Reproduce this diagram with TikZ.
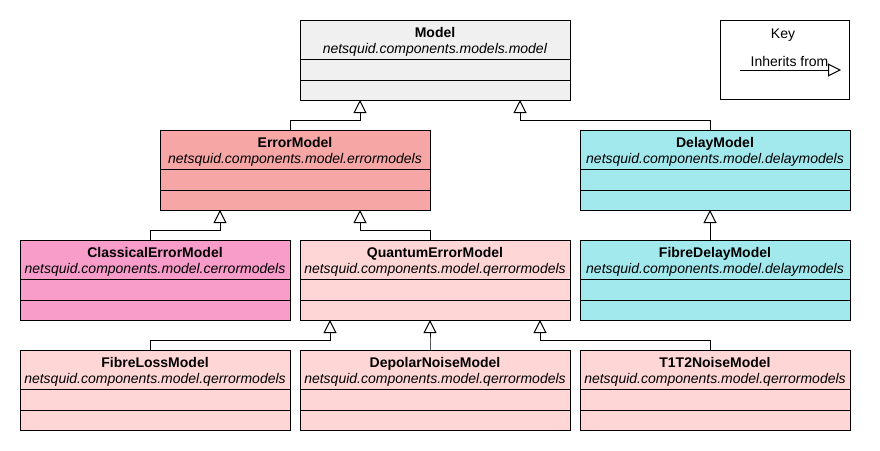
\documentclass[tikz,border=0pt]{standalone}
\usepackage{fontspec}
\setmainfont{Liberation Sans}
\usepackage{xcolor}
\usepackage{tikz}
\usetikzlibrary{positioning,arrows.meta}

\definecolor{modelgrey}{HTML}{F0F0F0}
\definecolor{errorred}{HTML}{F7A6A6}
\definecolor{cerrorpink}{HTML}{F89CCA}
\definecolor{qerrorpink}{HTML}{FFD6D6}
\definecolor{delaycyan}{HTML}{A2E9EE}

\begin{document}
\begin{tikzpicture}[x=1pt, y=-1pt, line width=1pt,
	font=\fontsize{14}{16}\selectfont,
	classhead/.style={draw, minimum width=270pt, minimum height=39pt, inner sep=0pt, outer sep=0pt, align=center, text depth=0pt},
	classpart/.style={draw, minimum width=270pt, inner sep=0pt, outer sep=0pt},
	inherits/.style={-{Triangle[open, length=13pt, width=13pt]}}]
	\useasboundingbox (0,0) rectangle (880,450);
	% class boxes: name / left / top / title / package / colour
	\foreach \nm/\x/\y/\ttl/\pkg/\col in {
			Model/300/20/Model/netsquid.components.models.model/modelgrey,
			ErrorModel/160/130/ErrorModel/netsquid.components.model.errormodels/errorred,
			DelayModel/580/130/DelayModel/netsquid.components.model.delaymodels/delaycyan,
			ClassicalErrorModel/20/240/ClassicalErrorModel/netsquid.components.model.cerrormodels/cerrorpink,
			QuantumErrorModel/300/240/QuantumErrorModel/netsquid.components.model.qerrormodels/qerrorpink,
			FibreDelayModel/580/240/FibreDelayModel/netsquid.components.model.delaymodels/delaycyan,
			FibreLossModel/20/350/FibreLossModel/netsquid.components.model.qerrormodels/qerrorpink,
			DepolarNoiseModel/300/350/DepolarNoiseModel/netsquid.components.model.qerrormodels/qerrorpink,
			T1T2NoiseModel/580/350/T1T2NoiseModel/netsquid.components.model.qerrormodels/qerrorpink}{
		\node[classhead, fill=\col] (\nm) at (\x+135,\y+19.5) {\rule{0pt}{11.6pt}\textbf{\ttl}\\\textit{\pkg}};
		\node[classpart, fill=\col, minimum height=21pt, below=0pt of \nm] (\nm-a) {};
		\node[classpart, fill=\col, minimum height=20pt, below=0pt of \nm-a] (\nm-b) {};
	}
	% inheritance: child / parent / shift on parent
	\foreach \child/\parent/\dx in {
			ErrorModel/Model/-75, DelayModel/Model/85,
			ClassicalErrorModel/ErrorModel/-75, QuantumErrorModel/ErrorModel/65,
			FibreDelayModel/DelayModel/-5,
			FibreLossModel/QuantumErrorModel/-105, DepolarNoiseModel/QuantumErrorModel/-5,
			T1T2NoiseModel/QuantumErrorModel/105}
		\draw[inherits] ([xshift=-5pt]\child.north) -- ++(0,-10) -| ([xshift=\dx pt]\parent-b.south);
	% key
	\node[draw, minimum width=129pt, minimum height=79pt, inner sep=0pt, outer sep=0pt] (key) at (784.5,59.5) {};
	\node[anchor=base, inner sep=0pt] (keytitle) at (783,38) {Key};
	\node[anchor=base, inner sep=0pt] (keylabel) at (789.5,66) {Inherits from};
	\coordinate (keyfrom) at (740,70);
	\coordinate (keyto) at (841,70);
	\draw[inherits] (keyfrom) -- (keyto);
\end{tikzpicture}
\end{document}
